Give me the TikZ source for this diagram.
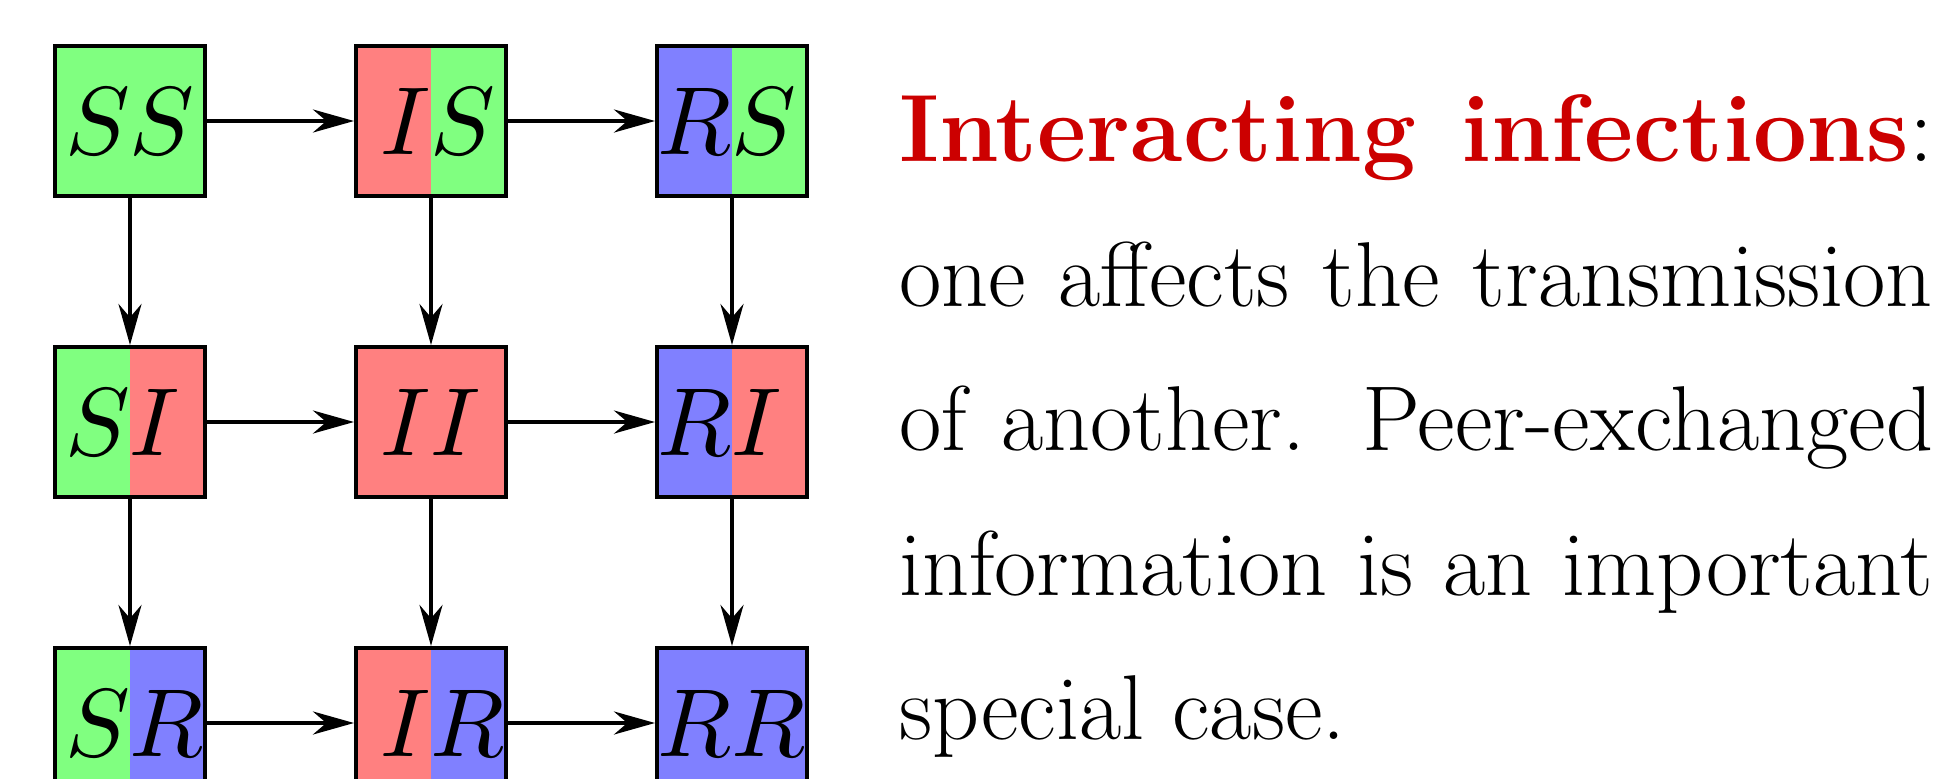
\documentclass[tikz,border=0pt]{standalone}
\usetikzlibrary{arrows.meta}
\DeclareFontShape{OML}{cmm}{m}{it}{<->cmmi10}{}
\begin{document}
\begin{tikzpicture}[
        line width=1.14pt,
        >={Stealth[length=0.41cm, width=0.23cm]},
        cell/.style 2 args={draw, minimum size=1.5cm, inner sep=0pt, font=\fontsize{27.5}{34}\selectfont,
            path picture={
                \fill[#1] (path picture bounding box.south west) rectangle (path picture bounding box.north);
                \fill[#2] (path picture bounding box.north) rectangle (path picture bounding box.south east);
            }},
        note/.style={anchor=north west, text width=10.34cm, align=justify, inner sep=0pt, font=\fontsize{26.2}{41.1}\selectfont}
    ]
        \useasboundingbox (0,0) rectangle (19.56,-7.79);

        % States of the two infections
        \node[cell={green!50}{green!50}] (ss) at (1.30,-1.21) {\llap{$S$}\rlap{$S$}};
        \node[cell={red!50}{green!50}]   (is) at (4.31,-1.21) {\llap{$I$}\rlap{$S$}};
        \node[cell={blue!50}{green!50}]  (rs) at (7.32,-1.21) {\llap{$R$}\rlap{$S$}};
        \node[cell={green!50}{red!50}]   (si) at (1.30,-4.22) {\llap{$S$}\rlap{$I$}};
        \node[cell={red!50}{red!50}]     (ii) at (4.31,-4.22) {\llap{$I$}\rlap{$I$}};
        \node[cell={blue!50}{red!50}]    (ri) at (7.32,-4.22) {\llap{$R$}\rlap{$I$}};
        \node[cell={green!50}{blue!50}]  (sr) at (1.30,-7.23) {\llap{$S$}\rlap{$R$}};
        \node[cell={red!50}{blue!50}]    (ir) at (4.31,-7.23) {\llap{$I$}\rlap{$R$}};
        \node[cell={blue!50}{blue!50}]   (rr) at (7.32,-7.23) {\llap{$R$}\rlap{$R$}};

        % Transitions
        \draw[->] (ss) -- (is);
        \draw[->] (is) -- (rs);
        \draw[->] (si) -- (ii);
        \draw[->] (ii) -- (ri);
        \draw[->] (sr) -- (ir);
        \draw[->] (ir) -- (rr);
        \draw[->] (ss) -- (si);
        \draw[->] (si) -- (sr);
        \draw[->] (is) -- (ii);
        \draw[->] (ii) -- (ir);
        \draw[->] (rs) -- (ri);
        \draw[->] (ri) -- (rr);

        % Caption text
        \node[note] (caption) at (8.97,-0.93) {{\fontsize{27.2}{41.1}\selectfont\textcolor{red!80!black}{\bfseries Interacting infections}:}\linebreak
            one affects the transmission\linebreak
            of another.  Peer-exchanged\linebreak
            information is an important\linebreak
            special case.};
    \end{tikzpicture}
\end{document}
